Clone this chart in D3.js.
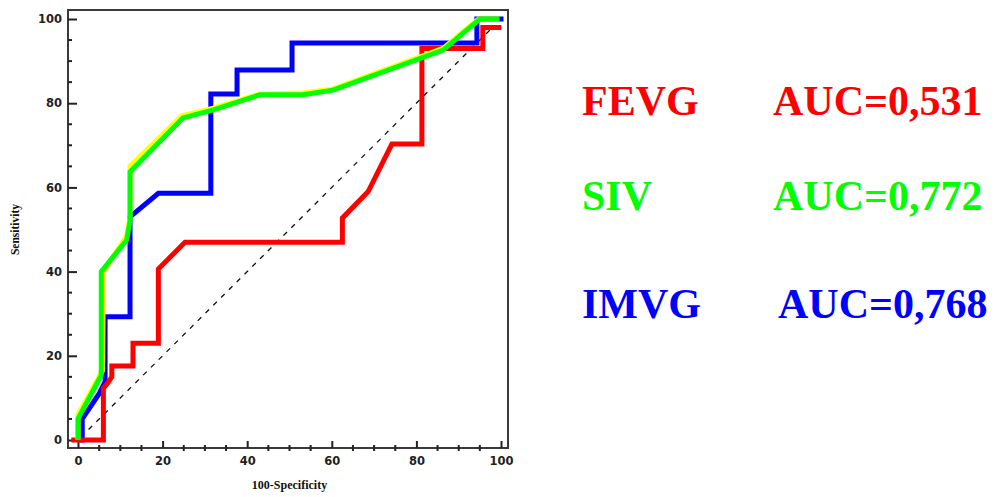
<!DOCTYPE html>
<html>
<head>
<meta charset="utf-8">
<script src="https://cdn.jsdelivr.net/npm/d3@7"></script>
<style>
  body { margin: 0; background: #fff; }
  svg { display: block; }
</style>
</head>
<body>
<div id="roc"></div>
<script>
// ROC curves, points are [100-specificity, sensitivity]
var fevg = [[-1,0],[6,0],[6,12.3],[7,13.5],[8,15],[8,17.6],[13,17.6],[13,23],[19,23],[19,40.6],
            [25.3,47],[62.5,47],[62.5,52.7],[68.6,59],[74.2,70.3],[81.3,70.3],[81.3,93],
            [95.7,93],[95.7,98],[99.5,98]];
var imvg = [[1,0],[1,5],[5,11],[6.4,13.8],[6.4,29.3],[12.3,29.3],[12.3,53],[19,58.6],[31.4,58.6],
            [31.4,82.2],[37.6,82.2],[37.6,87.9],[50.6,87.9],[50.6,94.3],[94.3,94.3],[94.3,100],[100,100]];
var siv = [[0,0.7],[0,5],[5.5,15.4],[5.5,40],[11.5,47.5],[12.3,52],[12.3,63.7],[24.8,76.5],
           [32,78.4],[43,82],[53.2,82],[60.3,83.1],[86.3,92.6],[95,100],[99,100]];
// second curve almost hidden under SIV
var sivYellow = [[0,0.7],[0,6],[5.8,16.5],[6,40],[11.5,48.5],[12.3,53],[12.3,65],[24.5,77],
                 [32,78.8],[43,82.2],[53.2,82.4],[60.3,83.4],[86.3,93],[94.7,100],[99,100]];
var chanceLine = [[2.5,2.5],[98,98]];

var xTicks = [0, 20, 40, 60, 80, 100];
var yTicks = [0, 20, 40, 60, 80, 100];
var minorTicks = d3.range(5, 100, 5).filter(function (v) { return v % 20 !== 0; });

var names = ["FEVG", "SIV", "IMVG"];
var aucLabels = ["AUC=0,531", "AUC=0,772", "AUC=0,768"];

var colors = { FEVG: "#ff0000", SIV: "#00ff00", IMVG: "#0000ff", yellow: "#ffff00" };

var W = 994, H = 497;
var frame = { left: 68, top: 10, right: 508, bottom: 448 };

var svg = d3.select("#roc").append("svg")
    .attr("width", W)
    .attr("height", H);

var x = d3.scaleLinear().domain([0, 100]).range([78, 501]);
var y = d3.scaleLinear().domain([0, 100]).range([440, 19]);

var line = d3.line()
    .x(function (d) { return x(d[0]); })
    .y(function (d) { return y(d[1]); });

// frame
svg.append("rect")
    .attr("x", frame.left)
    .attr("y", frame.top)
    .attr("width", frame.right - frame.left)
    .attr("height", frame.bottom - frame.top)
    .attr("fill", "none")
    .attr("stroke", "#3a3a3a")
    .attr("stroke-width", 2);

// axes
var xAxis = svg.append("g")
    .attr("transform", "translate(0," + frame.bottom + ")")
    .call(d3.axisBottom(x).tickValues(xTicks).tickSize(-7).tickPadding(9));
var yAxis = svg.append("g")
    .attr("transform", "translate(" + frame.left + ",0)")
    .call(d3.axisLeft(y).tickValues(yTicks).tickSize(-9).tickPadding(6));

[xAxis, yAxis].forEach(function (g) {
    g.select(".domain").remove();
    g.selectAll(".tick line").attr("stroke", "#222").attr("stroke-width", 2);
    g.selectAll(".tick text")
        .attr("fill", "#222")
        .style("font-family", "'DejaVu Sans', sans-serif")
        .style("font-weight", "bold")
        .style("font-size", "11.5px");
});

// minor ticks
svg.append("g").selectAll("line")
    .data(minorTicks).enter().append("line")
    .attr("x1", function (d) { return x(d); })
    .attr("x2", function (d) { return x(d); })
    .attr("y1", frame.bottom - 3)
    .attr("y2", frame.bottom + 3)
    .attr("stroke", "#222").attr("stroke-width", 2);
svg.append("g").selectAll("line")
    .data(minorTicks).enter().append("line")
    .attr("y1", function (d) { return y(d); })
    .attr("y2", function (d) { return y(d); })
    .attr("x1", frame.left)
    .attr("x2", frame.left + 4)
    .attr("stroke", "#222").attr("stroke-width", 2);

// axis titles
svg.append("text")
    .attr("x", (x(0) + x(100)) / 2)
    .attr("y", 489)
    .attr("text-anchor", "middle")
    .style("font-family", "'Liberation Serif', serif")
    .style("font-weight", "bold")
    .style("font-size", "12px")
    .attr("fill", "#111")
    .text("100-Specificity");

svg.append("text")
    .attr("transform", "translate(19," + (y(0) + y(100)) / 2 + ") rotate(-90)")
    .attr("text-anchor", "middle")
    .style("font-family", "'Liberation Serif', serif")
    .style("font-weight", "bold")
    .style("font-size", "11.5px")
    .attr("fill", "#111")
    .text("Sensitivity");

// diagonal reference
svg.append("path")
    .attr("d", line(chanceLine))
    .attr("fill", "none")
    .attr("stroke", "#111")
    .attr("stroke-width", 1.3)
    .attr("stroke-dasharray", "5,6");

// curves: blue, red, yellow, green (drawing order as in the picture)
var curves = [
    { data: imvg, color: colors.IMVG },
    { data: fevg, color: colors.FEVG },
    { data: sivYellow, color: colors.yellow },
    { data: siv, color: colors.SIV }
];
svg.append("g").selectAll("path")
    .data(curves).enter().append("path")
    .attr("d", function (c) { return line(c.data); })
    .attr("fill", "none")
    .attr("stroke", function (c) { return c.color; })
    .attr("stroke-width", 5)
    .attr("stroke-linejoin", "miter")
    .attr("stroke-linecap", "square");

// legend
var legendRows = [115, 210, 318];
var aucX = [773, 773, 778];
var lg = svg.append("g")
    .style("font-family", "'Liberation Serif', 'Times New Roman', serif")
    .style("font-weight", "bold")
    .style("font-size", "42px");
names.forEach(function (n, i) {
    lg.append("text").attr("x", 582).attr("y", legendRows[i])
        .attr("fill", colors[n]).text(n);
    lg.append("text").attr("x", aucX[i]).attr("y", legendRows[i])
        .attr("fill", colors[n]).text(aucLabels[i]);
});
</script>
</body>
</html>
